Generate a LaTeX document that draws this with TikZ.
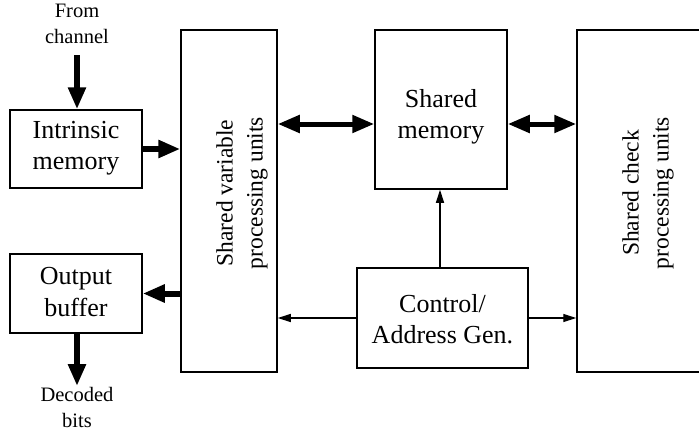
\documentclass[tikz,border=0pt]{standalone}
\usepackage{fontspec}
\setmainfont{Liberation Serif}
\usetikzlibrary{arrows.meta}
\begin{document}
\begin{tikzpicture}[x=1pt,y=-1pt,
  box/.style={draw,line width=1.5pt,rectangle,inner sep=0pt},
  txt/.style={align=center,font=\fontsize{26}{31.5}\selectfont,inner sep=0pt},
  rtxt/.style={align=center,font=\fontsize{23.5}{30}\selectfont,inner sep=0pt,rotate=90},
  small/.style={align=center,font=\fontsize{20.5}{26}\selectfont,inner sep=0pt},
  thick arrow/.style={line width=6pt,-{Triangle[width=17pt,length=22pt]}},
  dbl arrow/.style={line width=5pt,{Triangle[width=17pt,length=22pt]}-{Triangle[width=17pt,length=22pt]}},
  thin arrow/.style={line width=1.3pt,-{Triangle[width=8pt,length=13pt]}}]
\clip (0,0) rectangle (699,434);
\node[box,minimum width=132pt,minimum height=78pt] (intr) at (76,149) {};
\node[txt] (intrt) at (76,148) {Intrinsic\\memory};
\node[box,minimum width=132pt,minimum height=79pt] (outb) at (76,293.5) {};
\node[txt] (outbt) at (76,292) {Output\\buffer};
\node[box,minimum width=96pt,minimum height=342pt] (svar) at (229,201) {};
\node[rtxt] (svart) at (242,193) {Shared variable\\processing units};
\node[box,minimum width=132pt,minimum height=159pt] (smem) at (441,109.5) {};
\node[txt] (smemt) at (441,117) {Shared\\memory};
\node[box,minimum width=127pt,minimum height=342pt] (scheck) at (640.5,201) {};
\node[rtxt] (scheckt) at (648,193) {Shared check\\processing units};
\node[box,minimum width=171pt,minimum height=100pt] (ctrl) at (442.5,318) {};
\node[txt] (ctrlt) at (442.5,319) {Control/\\Address Gen.};
\node[small] (from) at (77,24) {From\\channel};
\node[small] (dec) at (77,407) {Decoded\\bits};
\coordinate (fromend) at (77,55);
\coordinate (decend) at (77,386);
\draw[thick arrow] (fromend) -- (intr.north -| fromend);
\draw[thick arrow] (intr.east) -- (intr.east -| svar.west);
\draw[thick arrow] (svar.west |- outb.east) -- (outb.east);
\draw[thick arrow] (outb.south -| decend) -- (decend);
\draw[dbl arrow] (svar.east |- 0,124) -- (smem.west |- 0,124);
\draw[dbl arrow] (smem.east |- 0,124) -- (scheck.west |- 0,124);
\draw[thin arrow] (ctrl.north -| 440,0) -- (smem.south -| 440,0);
\draw[thin arrow] (ctrl.west) -- (ctrl.west -| svar.east);
\draw[thin arrow] (ctrl.east) -- (ctrl.east -| scheck.west);
\end{tikzpicture}
\end{document}
